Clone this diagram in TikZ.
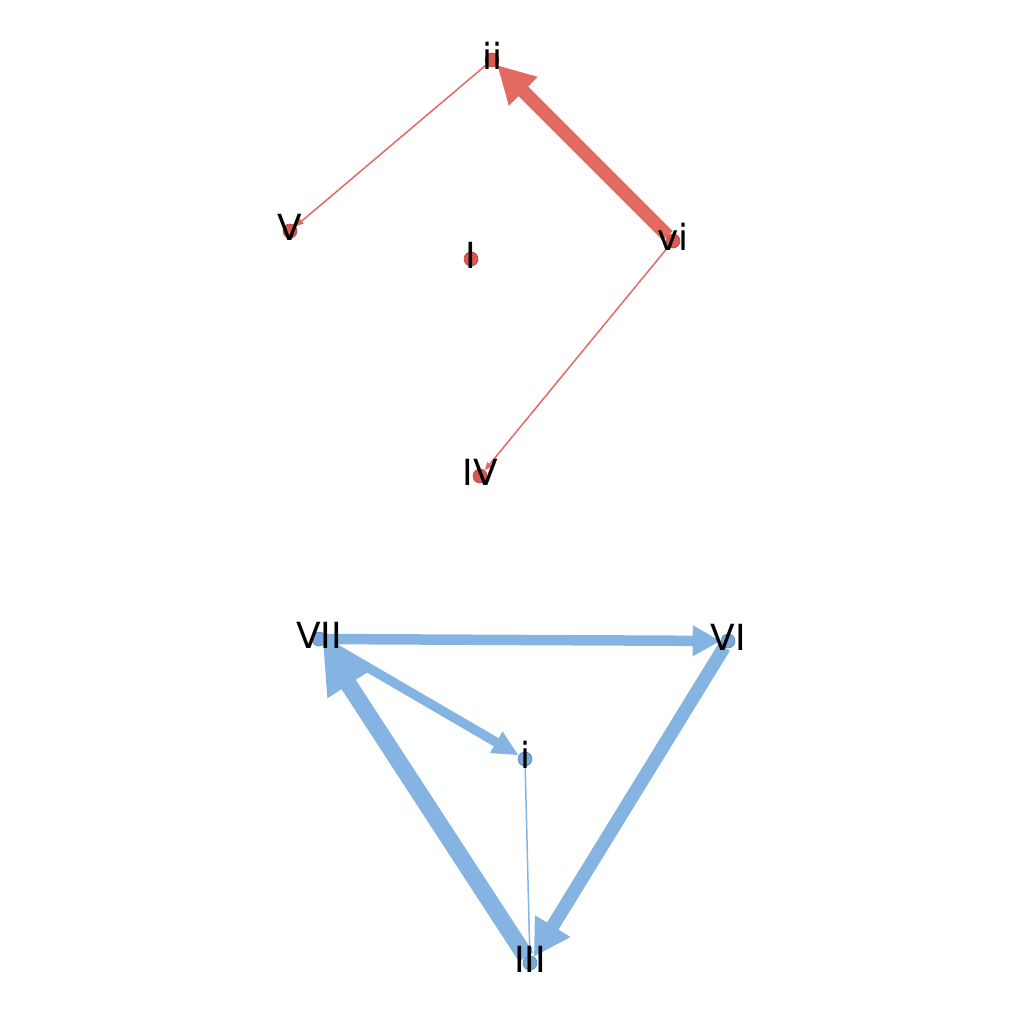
\documentclass[tikz,border=0pt]{standalone}
\usepackage{fontspec}
\setmainfont{DejaVu Sans}
\usetikzlibrary{arrows.meta, backgrounds}

\definecolor{redE}{HTML}{E26A61}
\definecolor{redN}{HTML}{D95A50}
\definecolor{redB}{HTML}{B8463E}
\definecolor{bluE}{HTML}{85B4E3}
\definecolor{bluN}{HTML}{78A8DA}
\definecolor{bluB}{HTML}{5A88BE}

\tikzset{
  rdot/.style={circle, fill=redN, draw=redB, line width=0.6pt, minimum size=14pt, inner sep=0pt},
  bdot/.style={circle, fill=bluN, draw=bluB, line width=0.6pt, minimum size=14pt, inner sep=0pt},
  lab/.style={font=\fontsize{36}{36}\selectfont, inner sep=0pt, anchor=center, yshift=4pt},
  thin/.style={line width=1.5pt, -{Triangle[length=8pt,width=6pt]}},
}

\begin{document}
\begin{tikzpicture}[x=1pt, y=-1pt]
  \useasboundingbox (0,0) rectangle (1024,1024);

  % Upper chord group
  \node[rdot] (ii) at (492,60) {};
  \node[rdot] (V) at (290,231) {};
  \node[rdot] (I) at (471,259) {};
  \node[rdot] (vi) at (673,241) {};
  \node[rdot] (IV) at (480,476) {};

  % Lower chord group
  \node[bdot] (VII) at (319,639) {};
  \node[bdot] (VI) at (728,641) {};
  \node[bdot] (i) at (525,759) {};
  \node[bdot] (III) at (530,963) {};

  % Edges
  \begin{scope}[on background layer]
    \draw[redE, thin] (ii) -- (V);
    \draw[redE, line width=13.5pt, -{Triangle[length=37pt,width=38pt]}] (vi) -- (ii);
    \draw[redE, thin] (vi) -- (IV);

    \draw[bluE, line width=10.5pt, -{Triangle[length=28pt,width=29pt]}] (VII) -- (VI);
    \draw[bluE, line width=13.5pt, -{Triangle[length=36pt,width=39pt]}] (VI) -- (III);
    \draw[bluE, line width=17pt, -{Triangle[length=47pt,width=47pt]}] (III) -- (VII);
    \draw[bluE, line width=9.5pt, -{Triangle[length=26pt,width=23pt]}] (VII) -- (i);
    \draw[bluE, thin] (i) -- (III);
  \end{scope}

  % Labels
  \node[lab] at (ii) {ii};
  \node[lab] at (V) {V};
  \node[lab] at (I) {I};
  \node[lab] at (vi) {vi};
  \node[lab] at (IV) {IV};
  \node[lab] at (VII) {VII};
  \node[lab] at (VI) {VI};
  \node[lab] at (i) {i};
  \node[lab] at (III) {III};
\end{tikzpicture}
\end{document}
